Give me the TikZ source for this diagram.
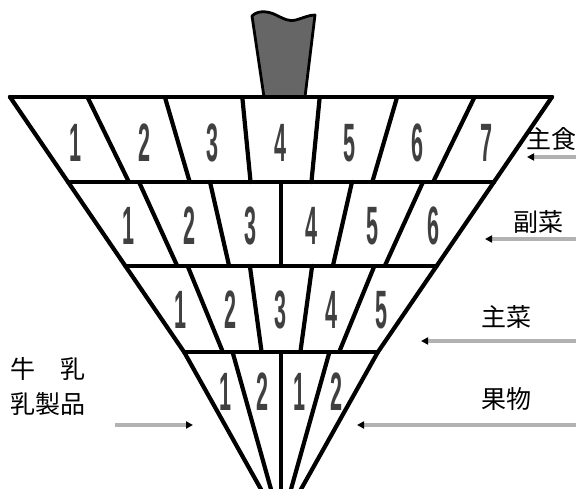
\documentclass[tikz,border=0pt]{standalone}
\usepackage{fontspec}
\usetikzlibrary{calc,arrows.meta}
\newfontfamily\cjkfont{Noto Sans CJK JP}
\newfontfamily\digitfont{Liberation Sans}
\newcommand{\digitbox}[1]{\scalebox{0.40}[1]{#1}}
\begin{document}
\begin{tikzpicture}[x=1pt,y=-1pt,
  edge/.style={draw=black,line width=4.2pt,line cap=round,line join=round},
  digit/.style={font=\digitfont\bfseries\fontsize{54}{54}\selectfont,text=black!75,inner sep=0pt},
  label/.style={font=\cjkfont\fontsize{25}{30}\selectfont,inner sep=0pt,text=black},
  pointer/.style={draw=black!30,line width=3.6pt,-{Triangle[length=7pt,width=7pt,color=black]}}]
\useasboundingbox (0,0) rectangle (576,489);
% handle
\draw[fill=black!60,line width=2.8pt,line join=round]
  (252,16) .. controls (258,10) and (268,11) .. (276,15)
  .. controls (284,19) and (290,22) .. (296,20)
  .. controls (303,18) and (309,15) .. (315,15)
  -- (305,97) -- (264,97) -- cycle;
\coordinate (A) at (281,494);
\coordinate (B) at (281,525);
% top line
\draw[edge] (10,97) -- (552,97);
% rows 1-3
\foreach \n/\st/\sb/\sd [count=\r] in {7/1/0.78589/0.88413, 6/0.78589/0.57431/0.67506, 5/0.57431/0.35768/0.46348} {
  \foreach \k in {0,...,\n} {
    \pgfmathsetmacro\xt{10+542*\k/\n}
    \draw[edge] ($(A)!\st!(\xt,97)$) -- ($(A)!\sb!(\xt,97)$);
  }
  \draw[edge] ($(A)!\sb!(10,97)$) -- ($(A)!\sb!(552,97)$);
  \foreach \k in {1,...,\n} {
    \pgfmathsetmacro\xd{10+542*(\k-0.5)/\n}
    \node[digit] (d\r-\k) at ($(A)!\sd!(\xd,97)$) {\digitbox{\k}};
  }
}
% row 4 fan
\begin{scope}
\clip (0,0) rectangle (576,489);
\foreach \k in {0,...,4} {
  \pgfmathsetmacro\xt{184.1+193.8*\k/4}
  \draw[edge] (\xt,352) -- (B);
}
\end{scope}
\foreach \lab [count=\k] in {1,2,1,2} {
  \pgfmathsetmacro\xd{184.1+193.8*(\k-0.5)/4}
  \node[digit] (d4-\k) at ($(B)!0.76879!(\xd,352)$) {\digitbox{\lab}};
}
% labels
\node[label,anchor=east] (shushoku) at (577,139) {主食};
\node[label] (fukusai) at (538,222) {副菜};
\node[label] (shusai) at (506,317) {主菜};
\node[label] (kudamono) at (506,399) {果物};
\node[label,anchor=west] (gyunyu) at (10,369) {牛　乳};
\node[label,anchor=west] (nyuseihin) at (10,404) {乳製品};
% pointers
\coordinate (s1) at (576,157); \coordinate (e1) at (527,157);
\coordinate (s2) at (576,239); \coordinate (e2) at (485,239);
\coordinate (s3) at (576,341); \coordinate (e3) at (421,341);
\coordinate (s4) at (576,425); \coordinate (e4) at (357,425);
\coordinate (s5) at (115,425); \coordinate (e5) at (193,425);
\foreach \i in {1,...,5} { \draw[pointer] (s\i) -- (e\i); }
\end{tikzpicture}
\end{document}
